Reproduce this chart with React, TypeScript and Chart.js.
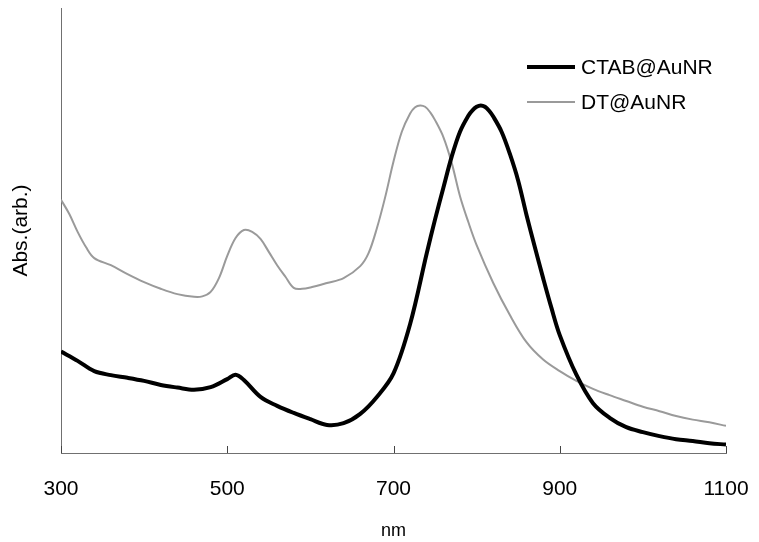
import React, { useEffect, useRef } from "react";
import { Chart, registerables } from "chart.js";

Chart.register(...registerables);

const ctabWavelengths = [300, 320, 340, 360, 380, 400, 420, 440, 460, 480, 500, 510, 520, 540, 560, 580, 600, 620, 640, 660, 680, 700, 720, 740, 750, 760, 770, 780, 790, 795, 800, 805, 810, 815, 820, 830, 840, 850, 860, 870, 880, 890, 900, 920, 940, 960, 980, 1000, 1020, 1040, 1060, 1080, 1100];
const ctabAbs = [0.228, 0.207, 0.184, 0.175, 0.169, 0.162, 0.153, 0.147, 0.142, 0.148, 0.166, 0.176, 0.164, 0.126, 0.106, 0.090, 0.076, 0.063, 0.067, 0.088, 0.126, 0.179, 0.290, 0.449, 0.525, 0.596, 0.666, 0.722, 0.758, 0.770, 0.778, 0.781, 0.778, 0.769, 0.756, 0.722, 0.672, 0.612, 0.535, 0.463, 0.393, 0.326, 0.265, 0.176, 0.112, 0.079, 0.058, 0.047, 0.038, 0.031, 0.027, 0.022, 0.019];

const dtWavelengths = [300, 310, 320, 330, 340, 360, 380, 400, 420, 440, 460, 470, 480, 490, 500, 510, 520, 530, 540, 550, 560, 570, 580, 590, 600, 620, 640, 660, 670, 680, 690, 700, 710, 720, 726, 732, 738, 744, 750, 760, 770, 780, 790, 800, 820, 840, 860, 880, 900, 920, 940, 960, 980, 1000, 1020, 1040, 1060, 1080, 1100];
const dtAbs = [0.569, 0.537, 0.497, 0.463, 0.438, 0.422, 0.402, 0.384, 0.369, 0.357, 0.351, 0.352, 0.362, 0.393, 0.443, 0.483, 0.501, 0.497, 0.481, 0.452, 0.422, 0.396, 0.371, 0.369, 0.372, 0.382, 0.393, 0.420, 0.449, 0.505, 0.575, 0.655, 0.722, 0.763, 0.777, 0.781, 0.778, 0.766, 0.748, 0.710, 0.652, 0.577, 0.519, 0.467, 0.382, 0.310, 0.249, 0.210, 0.184, 0.162, 0.144, 0.130, 0.117, 0.104, 0.094, 0.083, 0.075, 0.069, 0.061];

const seriesLabels = ["CTAB@AuNR", "DT@AuNR"];
const xTicks = [300, 500, 700, 900, 1100];
const xTitle = "nm";
const yTitle = "Abs.(arb.)";

const FONT = "'Liberation Sans', Arial, sans-serif";

const insideTicks = {
  id: "insideTicks",
  afterDraw(chart: any) {
    const { ctx, scales, chartArea } = chart;
    const xs = scales.x;
    ctx.save();
    ctx.strokeStyle = "#444444";
    ctx.lineWidth = 1;
    for (const v of xTicks) {
      const px = Math.round(xs.getPixelForValue(v)) + 0.5;
      ctx.beginPath();
      ctx.moveTo(px, chartArea.bottom);
      ctx.lineTo(px, chartArea.bottom - 7);
      ctx.stroke();
    }
    ctx.restore();
  },
};

const innerLegend = {
  id: "innerLegend",
  afterDraw(chart: any) {
    const { ctx } = chart;
    const ds = chart.data.datasets;
    const x0 = 527;
    const x1 = 575;
    const tx = 581;
    const ys = [67, 102];
    ctx.save();
    ctx.font = `21px ${FONT}`;
    ctx.textBaseline = "middle";
    ctx.textAlign = "left";
    ds.forEach((d: any, i: number) => {
      ctx.strokeStyle = d.borderColor;
      ctx.lineWidth = d.borderWidth;
      ctx.beginPath();
      ctx.moveTo(x0, ys[i]);
      ctx.lineTo(x1, ys[i]);
      ctx.stroke();
      ctx.fillStyle = "#000";
      ctx.fillText(d.label, tx, ys[i] + 1);
    });
    ctx.restore();
  },
};

export default function App() {
  const ref = useRef<HTMLCanvasElement>(null);
  useEffect(() => {
    if (!ref.current) return;
    const chart = new Chart(ref.current, {
      type: "line",
      data: {
        datasets: [
          {
            label: seriesLabels[0],
            data: ctabWavelengths.map((x, i) => ({ x, y: ctabAbs[i] })),
            borderColor: "#000000",
            borderWidth: 4,
            pointRadius: 0,
            tension: 0.35,
            fill: false,
          },
          {
            label: seriesLabels[1],
            data: dtWavelengths.map((x, i) => ({ x, y: dtAbs[i] })),
            borderColor: "#9a9a9a",
            borderWidth: 2,
            pointRadius: 0,
            tension: 0.35,
            fill: false,
          },
        ],
      },
      options: {
        responsive: false,
        animation: false,
        layout: { padding: { left: 0, right: 33, top: 8, bottom: 0 } },
        plugins: { legend: { display: false }, tooltip: { enabled: false } },
        scales: {
          x: {
            type: "linear",
            min: 300,
            max: 1100,
            afterBuildTicks: (s: any) => {
              s.ticks = xTicks.map((v) => ({ value: v }));
            },
            afterFit: (s: any) => {
              s.height = 89;
              s.paddingLeft = 0;
              s.paddingRight = 0;
            },
            grid: { display: false, drawTicks: false },
            border: { display: true, color: "#707070", width: 1 },
            ticks: {
              padding: 24,
              color: "#000",
              font: { family: FONT, size: 21 },
              maxRotation: 0,
              callback: (v: any) => String(v),
            },
            title: {
              display: true,
              text: xTitle,
              color: "#000",
              font: { family: FONT, size: 18 },
              padding: { top: 0, bottom: 0 },
            },
          },
          y: {
            min: 0,
            max: 1,
            afterFit: (s: any) => {
              s.width = 61;
            },
            grid: { display: false, drawTicks: false },
            border: { display: true, color: "#707070", width: 1 },
            ticks: { display: false },
            title: {
              display: true,
              text: yTitle,
              color: "#000",
              font: { family: FONT, size: 21 },
              padding: { top: 9, bottom: 0 },
            },
          },
        },
      },
      plugins: [insideTicks, innerLegend],
    } as any);
    return () => chart.destroy();
  }, []);
  return (
    <div style={{ position: "absolute", left: 0, top: 0, width: 759, height: 542, background: "#fff" }}>
      <canvas ref={ref} width={759} height={542} />
    </div>
  );
}
